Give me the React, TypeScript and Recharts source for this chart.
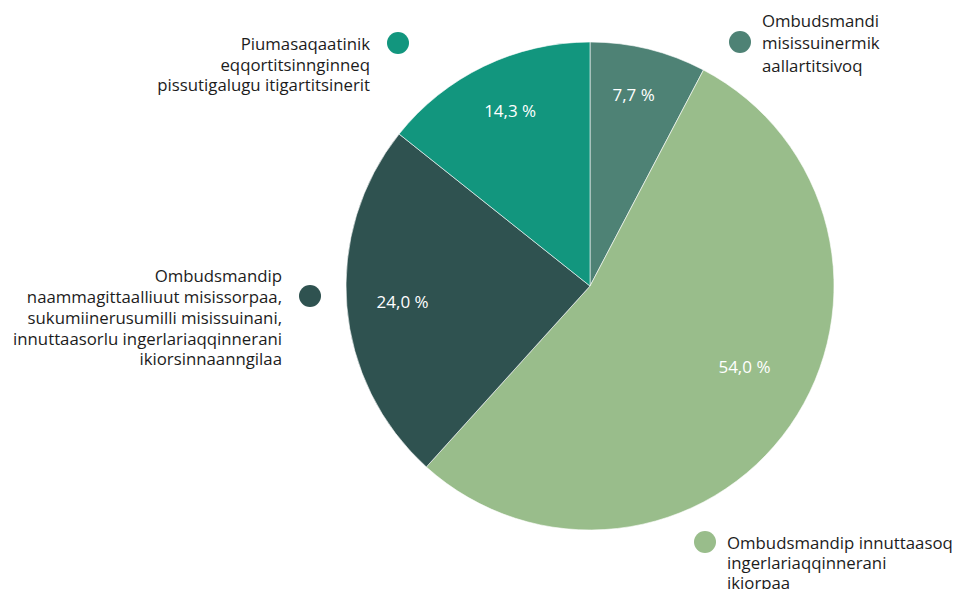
import { Cell, Pie, PieChart } from "recharts";

const categories = [
  ["Ombudsmandi", "misissuinermik", "aallartitsivoq"],
  ["Ombudsmandip innuttaasoq", "ingerlariaqqinnerani", "ikiorpaa"],
  [
    "Ombudsmandip",
    "naammagittaalliuut misissorpaa,",
    "sukumiinerusumilli misissuinani,",
    "innuttaasorlu ingerlariaqqinnerani",
    "ikiorsinnaanngilaa",
  ],
  ["Piumasaqaatinik", "eqqortitsinnginneq", "pissutigalugu itigartitsinerit"],
];
const shares = [7.7, 54.0, 24.0, 14.3];
const valueLabels = ["7,7 %", "54,0 %", "24,0 %", "14,3 %"];

const COLORS = ["#4e8275", "#99bd8b", "#2f5250", "#12967e"];

// legend dot placement relative to pie centre, text side, which line the dot sits on
const LEGEND = [
  { dx: 150, dy: -244, side: "right", line: 1, lh: 22.5 },
  { dx: 115, dy: 256, side: "right", line: 0, lh: 20 },
  { dx: -280, dy: 10, side: "left", line: 1, lh: 20.8 },
  { dx: -192, dy: -243, side: "left", line: 0, lh: 20.5 },
];
// small angle nudges (deg) and radius for the percentage labels
const INNER = [
  { da: 1, r: 196 },
  { da: 7.5, r: 174 },
  { da: 0, r: 188 },
  { da: -1.3, r: 193 },
];

const data = categories.map((c, i) => ({ name: c.join(" "), value: shares[i] }));

const RAD = Math.PI / 180;
const FONT = "'Open Sans', 'Noto Sans', sans-serif";

function renderLabel(props: any) {
  const { cx, cy, midAngle, index } = props;
  const inner = INNER[index];
  const a = (midAngle + inner.da) * RAD;
  const ix = cx + inner.r * Math.cos(a);
  const iy = cy - inner.r * Math.sin(a);
  const lg = LEGEND[index];
  const dotX = cx + lg.dx;
  const dotY = cy + lg.dy;
  const lines = categories[index];
  const tx = lg.side === "right" ? dotX + 22 : dotX - 28;
  const firstY = dotY - lg.line * lg.lh;
  return (
    <g>
      <text
        x={ix}
        y={iy}
        fill="#fff"
        fontSize={17}
        fontFamily={FONT}
        textAnchor="middle"
        dominantBaseline="central"
      >
        {valueLabels[index]}
      </text>
      <circle cx={dotX} cy={dotY} r={11} fill={COLORS[index]} />
      <text
        x={tx}
        y={firstY}
        fill="#1c1c1c"
        fontSize={16.8}
        fontFamily={FONT}
        textAnchor={lg.side === "right" ? "start" : "end"}
        dominantBaseline="central"
      >
        {lines.map((l, i) => (
          <tspan key={i} x={tx} dy={i === 0 ? 0 : lg.lh}>
            {l}
          </tspan>
        ))}
      </text>
    </g>
  );
}

export default function App() {
  return (
    <div style={{ position: "absolute", left: 0, top: 0, width: 953, height: 589, background: "#fff" }}>
      <PieChart width={953} height={589} margin={{ top: 0, right: 0, bottom: 0, left: 0 }}>
        <Pie
          data={data}
          dataKey="value"
          cx={590}
          cy={286}
          outerRadius={244}
          startAngle={90}
          endAngle={-270}
          stroke="#ffffff"
          strokeWidth={0.6}
          label={renderLabel}
          labelLine={false}
          isAnimationActive={false}
        >
          {data.map((_, i) => (
            <Cell key={i} fill={COLORS[i]} />
          ))}
        </Pie>
      </PieChart>
    </div>
  );
}
